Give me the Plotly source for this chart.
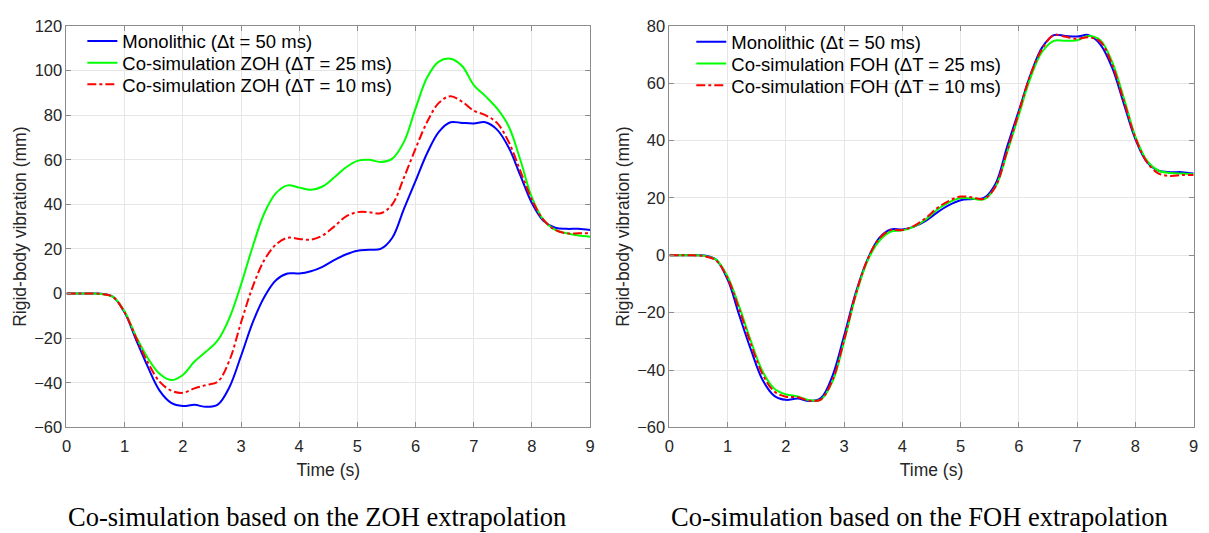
import plotly.graph_objects as go

# Time grid (s)
t = [0.0, 0.2, 0.4, 0.6, 0.8, 1.0, 1.2, 1.4, 1.6, 1.8, 2.0, 2.2, 2.4, 2.6, 2.8,
     3.0, 3.2, 3.4, 3.6, 3.8, 4.0, 4.2, 4.4, 4.6, 4.8, 5.0, 5.2, 5.4, 5.6, 5.8,
     6.0, 6.2, 6.4, 6.6, 6.8, 7.0, 7.2, 7.4, 7.6, 7.8, 8.0, 8.2, 8.4, 8.6, 8.8, 9.0]

# Monolithic (dt = 50 ms), mm
mono = [0, 0, 0, -0.1, -1.5, -8.5, -21, -33, -43.5, -49, -50.4, -49.9, -50.8, -49.8, -42,
        -28, -13, -1.5, 6, 9, 9, 10, 12, 15, 17.5, 19.2, 19.6, 20, 25, 38,
        50.5, 63, 72.5, 76.8, 76.5, 76.3, 76.8, 73.5, 65.5, 53, 40.5, 32.5, 29.5, 29, 29, 28.5]

# ZOH co-simulation, mm
zoh25 = [0, 0, 0, -0.2, -1.5, -8, -19.5, -29, -36, -38.8, -36.5, -30.5, -26, -21, -11,
         4, 21, 36, 45, 48.5, 47.5, 46.5, 48, 52, 56.5, 59.5, 60, 59, 60.5, 68,
         83, 97, 104, 105.3, 102, 93.5, 88.5, 83, 75, 60, 43, 33, 28.5, 27, 26, 25.5]
zoh10 = [0, 0, 0, -0.2, -1.5, -8.5, -20, -31, -39.5, -43.5, -44.5, -42.5, -41, -39.5, -30,
         -13, 3, 15, 22, 25, 24.5, 24.2, 26, 30, 34.5, 36.5, 36.5, 36, 40, 52,
         65, 77, 85.5, 88.5, 86, 82, 80, 76.5, 68, 55, 42, 33, 28.5, 27, 27, 27]

# FOH co-simulation, mm
foh25 = [0, 0, 0, -0.2, -1.5, -7.5, -18, -30, -40.5, -46.5, -48.5, -49.2, -50.5, -50.3, -44,
         -30, -14, -2, 5, 8.3, 8.7, 10, 12.5, 16, 18.5, 20, 19.8, 19.5, 24, 36,
         49, 62, 71, 74.8, 74.8, 75, 76.5, 75, 67.5, 55, 41.5, 33, 29.5, 28.7, 28.5, 28.3]
foh10 = [0, 0, 0, -0.3, -1.8, -8, -19, -31, -41.5, -47.5, -49.3, -49.5, -50.7, -50.3, -43.5,
         -29.5, -13.5, -1.5, 5.8, 8.8, 8.8, 10.3, 13, 16.5, 19, 20.5, 20.2, 19.7, 24, 36.5,
         50, 63, 72, 76.8, 76.2, 75.5, 76, 74.5, 66.5, 54, 41, 32.5, 28.5, 27.7, 28, 28]

x_ticks = [0, 1, 2, 3, 4, 5, 6, 7, 8, 9]
y_ticks_left = [-60, -40, -20, 0, 20, 40, 60, 80, 100, 120]
y_ticks_right = [-60, -40, -20, 0, 20, 40, 60, 80]

names_left = ["Monolithic (\u0394t = 50 ms)",
              "Co-simulation ZOH (\u0394T = 25 ms)",
              "Co-simulation ZOH (\u0394T = 10 ms)"]
names_right = ["Monolithic (\u0394t = 50 ms)",
               "Co-simulation FOH (\u0394T = 25 ms)",
               "Co-simulation FOH (\u0394T = 10 ms)"]
captions = ["Co-simulation based on the ZOH extrapolation",
            "Co-simulation based on the FOH extrapolation"]

BLUE, GREEN, RED = "#0000ff", "#00ff00", "#ff0000"
W, H = 1209, 533

font_main = "Liberation Sans, Arial, Helvetica, sans-serif"
leg_font = dict(family=font_main, size=18.5, color="#000000")

fig = go.Figure()
series_left = [(mono, BLUE, "solid"), (zoh25, GREEN, "solid"), (zoh10, RED, "dashdot")]
series_right = [(mono, BLUE, "solid"), (foh25, GREEN, "solid"), (foh10, RED, "dashdot")]
rows_left = [33.5, 56, 78.5]
rows_right = [34.5, 57, 79.5]
legend_layout = {}
k = 0
for panel, (series, names, rows, lx, xa, ya) in enumerate([
        (series_left, names_left, rows_left, 78, "x", "y"),
        (series_right, names_right, rows_right, 692, "x2", "y2")]):
    for (y, c, d), n, ry in zip(series, names, rows):
        k += 1
        lname = "legend" if k == 1 else f"legend{k}"
        fig.add_trace(go.Scatter(x=t, y=y, name=n, mode="lines",
                                 line=dict(color=c, width=2, dash=d, shape="spline", smoothing=1.0),
                                 xaxis=xa, yaxis=ya, legend=lname))
        legend_layout[lname] = dict(x=lx / W, y=1 - ry / H, xanchor="left", yanchor="middle",
                                    bgcolor="rgba(0,0,0,0)", borderwidth=0, font=leg_font,
                                    itemwidth=30)

ax_common = dict(showline=True, linecolor="#8c8c8c", linewidth=1, mirror="allticks",
                 ticks="inside", ticklen=5, tickcolor="#8c8c8c",
                 showgrid=True, gridcolor="#e6e6e6", gridwidth=1, zeroline=False,
                 tickfont=dict(family=font_main, size=16.5, color="#262626"),
                 title_font=dict(family=font_main, size=17.5, color="#262626"))

y0 = 1 - 433 / H
y1 = 1 - 17.5 / H
fig.update_layout(
    width=W, height=H, margin=dict(l=0, r=0, t=0, b=0),
    paper_bgcolor="white", plot_bgcolor="white",
    font=dict(family=font_main, color="#262626"),
    xaxis=dict(domain=[62 / W, 590 / W], range=[0, 9], tickvals=x_ticks, ticklabelstandoff=4,
               title=dict(text="Time (s)", standoff=9), anchor="y", **ax_common),
    yaxis=dict(domain=[y0, y1], range=[-60, 120], tickvals=y_ticks_left,
               title=dict(text="Rigid-body vibration (mm)", standoff=3), anchor="x", **ax_common),
    xaxis2=dict(domain=[670 / W, 1198.5 / W], range=[0, 9], tickvals=x_ticks, ticklabelstandoff=4,
                title=dict(text="Time (s)", standoff=9), anchor="y2", **ax_common),
    yaxis2=dict(domain=[y0, y1], range=[-60, 80], tickvals=y_ticks_right,
                title=dict(text="Rigid-body vibration (mm)", standoff=3), anchor="x2", **ax_common),
    showlegend=True,
    annotations=[
        dict(text=captions[0], x=315 / W, y=1 - 526 / H, xref="paper", yref="paper",
             xanchor="center", yanchor="middle", showarrow=False,
             font=dict(family="Liberation Serif, Times New Roman, serif", size=26.5, color="#000000")),
        dict(text=captions[1], x=922 / W, y=1 - 526 / H, xref="paper", yref="paper",
             xanchor="center", yanchor="middle", showarrow=False,
             font=dict(family="Liberation Serif, Times New Roman, serif", size=26.5, color="#000000")),
    ],
)
fig.update_layout(**legend_layout)

fig.write_html("out.html")
